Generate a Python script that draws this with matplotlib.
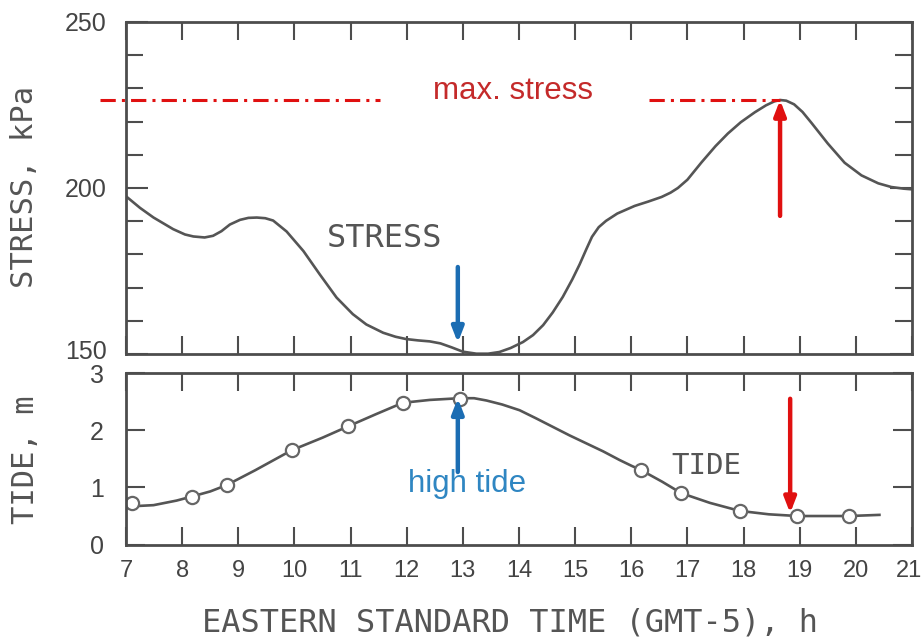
import matplotlib
matplotlib.use("Agg")
import matplotlib.pyplot as plt
from matplotlib import font_manager
from matplotlib.ticker import MultipleLocator
from matplotlib.transforms import ScaledTranslation

# stress record (kPa) against eastern standard time (h)
stress_hours = [7.0, 7.25, 7.49, 7.84, 8.05, 8.20, 8.40, 8.55, 8.70, 8.85, 9.03, 9.18,
                9.33, 9.48, 9.62, 9.86, 10.16, 10.45, 10.75, 11.04, 11.28, 11.58,
                11.80, 11.99, 12.20, 12.41, 12.60, 12.80, 13.0, 13.24, 13.45, 13.65,
                13.85, 14.07, 14.25, 14.43, 14.60, 14.78, 14.95, 15.08, 15.20, 15.30,
                15.42, 15.55, 15.75, 16.06, 16.30, 16.54, 16.70, 16.83, 17.0, 17.25,
                17.50, 17.72, 17.95, 18.20, 18.40, 18.55, 18.65, 18.76, 18.90, 19.05,
                19.21, 19.50, 19.80, 20.10, 20.40, 20.63, 20.85, 21.0]
stress_kpa = [197.5, 194.0, 191.1, 187.6, 186.0, 185.4, 185.1, 185.6, 187.0, 189.0,
              190.4, 191.0, 191.1, 190.9, 190.2, 186.9, 181.0, 174.0, 167.0, 162.0,
              158.9, 156.4, 155.2, 154.5, 154.1, 153.8, 153.2, 152.0, 150.7, 150.1,
              150.1, 150.6, 151.8, 153.6, 155.7, 158.7, 162.5, 167.2, 172.5, 177.0,
              181.6, 185.3, 188.2, 190.1, 192.3, 194.6, 195.9, 197.3, 198.6, 200.0,
              202.5, 207.7, 212.6, 216.4, 219.8, 222.8, 224.9, 226.1, 226.5, 226.3,
              225.2, 222.9, 219.6, 213.4, 207.6, 203.8, 201.4, 200.3, 199.8, 199.6]

max_stress = 226.5
max_stress_hour = 18.65

# tide curve (m) and the observed tide readings
tide_hours = [7.0, 7.1, 7.49, 7.9, 8.17, 8.5, 8.79, 9.3, 9.95, 10.5, 10.96, 11.45,
              11.93, 12.41, 12.94, 13.2, 13.42, 13.70, 14.01, 14.3, 14.6, 14.9, 15.2,
              15.5, 15.79, 16.0, 16.18, 16.55, 16.89, 17.4, 17.93, 18.45, 18.96,
              19.4, 19.88, 20.42]
tide_m = [0.65, 0.67, 0.69, 0.77, 0.84, 0.93, 1.04, 1.30, 1.65, 1.87, 2.07, 2.28,
          2.48, 2.53, 2.56, 2.56, 2.52, 2.45, 2.35, 2.21, 2.06, 1.91, 1.77, 1.63,
          1.48, 1.38, 1.30, 1.10, 0.90, 0.73, 0.59, 0.53, 0.50, 0.50, 0.50, 0.52]
obs_hours = [7.1, 8.17, 8.79, 9.95, 10.96, 11.93, 12.94, 16.18, 16.89, 17.93, 18.96, 19.88]
obs_tide = [0.72, 0.84, 1.04, 1.65, 2.07, 2.48, 2.55, 1.30, 0.90, 0.59, 0.50, 0.50]

high_tide_hour = 12.91
high_tide = 2.56

x_ticks = list(range(7, 22))


def pick_font(names):
    for name in names:
        try:
            font_manager.findfont(font_manager.FontProperties(family=name),
                                  fallback_to_default=False)
            return name
        except Exception:
            continue
    return "DejaVu Sans"


def nudge(label, dx_px, dy_px):
    # shift a tick label by a few pixels
    label.set_transform(label.get_transform()
                        + ScaledTranslation(dx_px / 100, dy_px / 100, fig.dpi_scale_trans))


narrow = pick_font(["Liberation Sans Narrow", "Liberation Sans"])
mono = "DejaVu Sans Mono"
sans = pick_font(["Liberation Sans", "DejaVu Sans"])

ink = "#555555"
frame = "#4d4d4d"
red = "#e01010"
red_text = "#c42a2a"
blue = "#1b6db3"
blue_text = "#2f86c2"
head = "-|>,head_length=0.9,head_width=0.35"

fig = plt.figure(figsize=(9.24, 6.39), dpi=100)
ax1 = fig.add_axes([0.1364, 0.446, 0.8506, 0.5196])
ax2 = fig.add_axes([0.1364, 0.1477, 0.8506, 0.2685])

for ax in (ax1, ax2):
    for sp in ax.spines.values():
        sp.set_color(frame)
        sp.set_linewidth(2.0)
    ax.set_xlim(7, 21)
    ax.set_xticks(x_ticks)
    ax.tick_params(which="both", direction="in", top=True, right=True,
                   color=frame, width=1.5, labelcolor="#444444")
    ax.tick_params(which="major", length=13)
    ax.tick_params(which="minor", length=12)

# ---- stress panel
ax1.plot(stress_hours, stress_kpa, color=ink, lw=1.9, solid_joinstyle="round")
ax1.set_ylim(150, 250)
ax1.set_yticks([150, 200, 250])
ax1.yaxis.set_minor_locator(MultipleLocator(10))
ax1.tick_params(axis="x", labelbottom=False)
ax1.tick_params(axis="y", which="major", length=16, pad=14)
for lab in ax1.get_yticklabels():
    lab.set_fontfamily(narrow)
    lab.set_fontsize(18)
# lift the bottom stress label a little off the tide panel's "3"
nudge(ax1.yaxis.get_major_ticks()[0].label1, 0, 5)

dash = (0, (5, 2, 1, 2))
ax1.plot([6.54, 11.52], [max_stress, max_stress], color=red, lw=2.2,
         linestyle=dash, clip_on=False)
ax1.plot([16.32, max_stress_hour], [max_stress, max_stress], color=red, lw=2.2,
         linestyle=dash)
ax1.text(12.46, max_stress + 0.3, "max. stress", color=red_text, fontsize=22.5,
         family=sans, ha="left", va="baseline")

ax1.annotate("", xy=(max_stress_hour, max_stress), xytext=(max_stress_hour, 191.6),
             arrowprops=dict(arrowstyle=head, color=red, lw=3.2, shrinkA=0, shrinkB=0))
ax1.annotate("", xy=(high_tide_hour, 153.4), xytext=(high_tide_hour, 176.2),
             arrowprops=dict(arrowstyle=head, color=blue, lw=3.2, shrinkA=0, shrinkB=0))
ax1.text(10.57, 182.2, "STRESS", color=ink, fontsize=23, family=mono,
         ha="left", va="baseline")

# ---- tide panel
ax2.plot(tide_hours, tide_m, color=ink, lw=1.9, solid_joinstyle="round")
ax2.plot(obs_hours, obs_tide, linestyle="none", marker="o", markersize=9.5,
         markerfacecolor="white", markeredgecolor="#666666", markeredgewidth=1.6)
ax2.set_ylim(0, 3)
ax2.set_yticks([0, 1, 2, 3])
ax2.tick_params(axis="y", which="major", length=14, pad=16)
ax2.tick_params(axis="x", pad=11)
for lab in ax2.get_yticklabels():
    lab.set_fontfamily(narrow)
    lab.set_fontsize(18)
for lab in ax2.get_xticklabels():
    lab.set_fontfamily(narrow)
    lab.set_fontsize(17)
# keep the last hour label inside the figure
nudge(ax2.xaxis.get_major_ticks()[-1].label1, -3, 0)

ax2.annotate("", xy=(high_tide_hour, high_tide), xytext=(high_tide_hour, 1.27),
             arrowprops=dict(arrowstyle=head, color=blue, lw=3.2, shrinkA=0, shrinkB=0))
ax2.annotate("", xy=(18.83, 0.55), xytext=(18.83, 2.55),
             arrowprops=dict(arrowstyle=head, color=red, lw=3.2, shrinkA=0, shrinkB=0))
ax2.text(12.02, 0.92, "high tide", color=blue_text, fontsize=22.5, family=sans,
         ha="left", va="baseline")
ax2.text(16.71, 1.24, "TIDE", color=ink, fontsize=21, family=mono,
         ha="left", va="baseline")

# axis titles placed in figure pixels
fig.text(25 / 924, 1 - 187 / 639, "STRESS, kPa", family=mono, fontsize=22,
         color=ink, rotation=90, ha="center", va="center")
fig.text(25 / 924, 1 - 460 / 639, "TIDE, m", family=mono, fontsize=22,
         color=ink, rotation=90, ha="center", va="center")
fig.text(510 / 924, 1 - 623 / 639, "EASTERN STANDARD TIME (GMT-5), h", family=mono,
         fontsize=23, color=ink, ha="center", va="center")

fig.savefig("out.png", dpi=100)
